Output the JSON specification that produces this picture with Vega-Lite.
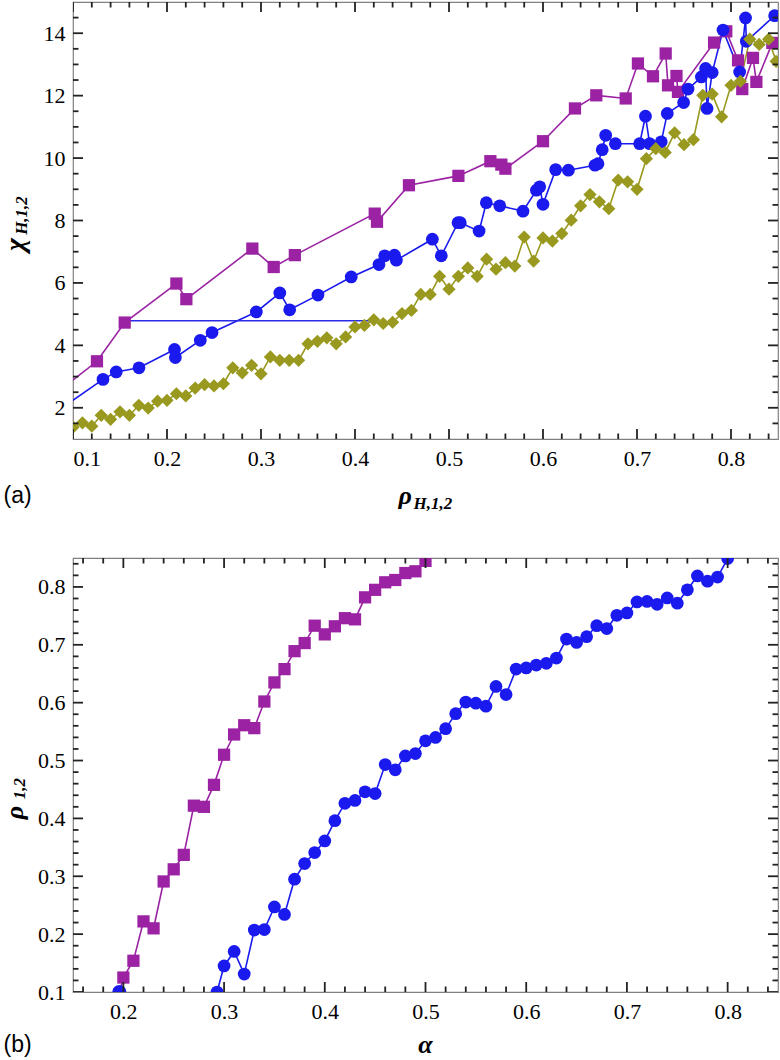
{
"$schema": "https://vega.github.io/schema/vega-lite/v6.json",
"padding": {"left": 0, "top": 1, "right": 4, "bottom": 0},
"spacing": 43,
"config": {
  "font": "Liberation Serif",
  "view": {"stroke": "#808080", "strokeWidth": 1.2},
  "tick": {"color": "#222222", "thickness": 1.8, "opacity": 1},
  "axis": {"domain": false, "grid": false, "ticks": false, "labelFont": "Liberation Serif", "labelFontSize": 22, "labelColor": "#000000", "titleFont": "Liberation Serif", "titleColor": "#000000", "titleFontSize": 26, "titleFontWeight": "bold", "titleFontStyle": "italic"}
},
"datasets": {
  "a": [
    {"s": "sq", "x": 0.085, "y": 2.54}, {"s": "sq", "x": 0.1255, "y": 3.49}, {"s": "sq", "x": 0.155, "y": 4.73}, {"s": "sq", "x": 0.21, "y": 5.98}, {"s": "sq", "x": 0.2206, "y": 5.48}, {"s": "sq", "x": 0.2908, "y": 7.10}, {"s": "sq", "x": 0.3135, "y": 6.51}, {"s": "sq", "x": 0.336, "y": 6.89}, {"s": "sq", "x": 0.421, "y": 8.22}, {"s": "sq", "x": 0.4234, "y": 7.96}, {"s": "sq", "x": 0.4574, "y": 9.13}, {"s": "sq", "x": 0.51, "y": 9.43}, {"s": "sq", "x": 0.544, "y": 9.90}, {"s": "sq", "x": 0.5557, "y": 9.79}, {"s": "sq", "x": 0.56, "y": 9.66}, {"s": "sq", "x": 0.60, "y": 10.54}, {"s": "sq", "x": 0.634, "y": 11.59}, {"s": "sq", "x": 0.6567, "y": 12.01}, {"s": "sq", "x": 0.688, "y": 11.91}, {"s": "sq", "x": 0.701, "y": 13.03}, {"s": "sq", "x": 0.717, "y": 12.62}, {"s": "sq", "x": 0.7305, "y": 13.35}, {"s": "sq", "x": 0.733, "y": 12.33}, {"s": "sq", "x": 0.742, "y": 12.63}, {"s": "sq", "x": 0.7436, "y": 12.12}, {"s": "sq", "x": 0.782, "y": 13.70}, {"s": "sq", "x": 0.795, "y": 14.06}, {"s": "sq", "x": 0.8075, "y": 13.13}, {"s": "sq", "x": 0.812, "y": 12.21}, {"s": "sq", "x": 0.8234, "y": 13.21}, {"s": "sq", "x": 0.827, "y": 12.44}, {"s": "sq", "x": 0.844, "y": 13.69},
    {"s": "ci", "x": 0.09, "y": 2.03}, {"s": "ci", "x": 0.1319, "y": 2.91}, {"s": "ci", "x": 0.146, "y": 3.15}, {"s": "ci", "x": 0.1702, "y": 3.28}, {"s": "ci", "x": 0.208, "y": 3.87}, {"s": "ci", "x": 0.2089, "y": 3.61}, {"s": "ci", "x": 0.2354, "y": 4.16}, {"s": "ci", "x": 0.2479, "y": 4.41}, {"s": "ci", "x": 0.295, "y": 5.07}, {"s": "ci", "x": 0.32, "y": 5.68}, {"s": "ci", "x": 0.3305, "y": 5.14}, {"s": "ci", "x": 0.3606, "y": 5.61}, {"s": "ci", "x": 0.396, "y": 6.19}, {"s": "ci", "x": 0.4255, "y": 6.59}, {"s": "ci", "x": 0.4316, "y": 6.87}, {"s": "ci", "x": 0.442, "y": 6.89}, {"s": "ci", "x": 0.444, "y": 6.73}, {"s": "ci", "x": 0.4823, "y": 7.40}, {"s": "ci", "x": 0.4918, "y": 6.87}, {"s": "ci", "x": 0.5096, "y": 7.93}, {"s": "ci", "x": 0.512, "y": 7.93}, {"s": "ci", "x": 0.532, "y": 7.66}, {"s": "ci", "x": 0.5397, "y": 8.57}, {"s": "ci", "x": 0.554, "y": 8.47}, {"s": "ci", "x": 0.5787, "y": 8.30}, {"s": "ci", "x": 0.593, "y": 8.97}, {"s": "ci", "x": 0.5965, "y": 9.08}, {"s": "ci", "x": 0.60, "y": 8.52}, {"s": "ci", "x": 0.6135, "y": 9.63}, {"s": "ci", "x": 0.627, "y": 9.61}, {"s": "ci", "x": 0.6553, "y": 9.77}, {"s": "ci", "x": 0.6585, "y": 9.82}, {"s": "ci", "x": 0.663, "y": 10.27}, {"s": "ci", "x": 0.6667, "y": 10.73}, {"s": "ci", "x": 0.677, "y": 10.46}, {"s": "ci", "x": 0.7028, "y": 10.46}, {"s": "ci", "x": 0.709, "y": 11.34}, {"s": "ci", "x": 0.7135, "y": 10.46}, {"s": "ci", "x": 0.7258, "y": 10.52}, {"s": "ci", "x": 0.7322, "y": 11.43}, {"s": "ci", "x": 0.7496, "y": 11.78}, {"s": "ci", "x": 0.7543, "y": 12.21}, {"s": "ci", "x": 0.7685, "y": 12.60}, {"s": "ci", "x": 0.773, "y": 12.87}, {"s": "ci", "x": 0.7745, "y": 11.59}, {"s": "ci", "x": 0.780, "y": 12.74}, {"s": "ci", "x": 0.7915, "y": 14.10}, {"s": "ci", "x": 0.8092, "y": 12.76}, {"s": "ci", "x": 0.8155, "y": 14.49}, {"s": "ci", "x": 0.8163, "y": 13.74}, {"s": "ci", "x": 0.8464, "y": 14.56},
    {"s": "di", "x": 0.10, "y": 1.38}, {"s": "di", "x": 0.11, "y": 1.52}, {"s": "di", "x": 0.12, "y": 1.41}, {"s": "di", "x": 0.13, "y": 1.76}, {"s": "di", "x": 0.14, "y": 1.63}, {"s": "di", "x": 0.15, "y": 1.87}, {"s": "di", "x": 0.16, "y": 1.76}, {"s": "di", "x": 0.17, "y": 2.08}, {"s": "di", "x": 0.18, "y": 1.99}, {"s": "di", "x": 0.19, "y": 2.21}, {"s": "di", "x": 0.20, "y": 2.24}, {"s": "di", "x": 0.21, "y": 2.45}, {"s": "di", "x": 0.22, "y": 2.38}, {"s": "di", "x": 0.23, "y": 2.63}, {"s": "di", "x": 0.24, "y": 2.74}, {"s": "di", "x": 0.25, "y": 2.70}, {"s": "di", "x": 0.26, "y": 2.77}, {"s": "di", "x": 0.27, "y": 3.28}, {"s": "di", "x": 0.28, "y": 3.12}, {"s": "di", "x": 0.29, "y": 3.36}, {"s": "di", "x": 0.30, "y": 3.09}, {"s": "di", "x": 0.31, "y": 3.63}, {"s": "di", "x": 0.32, "y": 3.52}, {"s": "di", "x": 0.33, "y": 3.52}, {"s": "di", "x": 0.34, "y": 3.52}, {"s": "di", "x": 0.35, "y": 4.05}, {"s": "di", "x": 0.36, "y": 4.13}, {"s": "di", "x": 0.37, "y": 4.24}, {"s": "di", "x": 0.38, "y": 4.05}, {"s": "di", "x": 0.39, "y": 4.27}, {"s": "di", "x": 0.40, "y": 4.59}, {"s": "di", "x": 0.41, "y": 4.64}, {"s": "di", "x": 0.42, "y": 4.82}, {"s": "di", "x": 0.43, "y": 4.70}, {"s": "di", "x": 0.44, "y": 4.74}, {"s": "di", "x": 0.45, "y": 5.02}, {"s": "di", "x": 0.46, "y": 5.12}, {"s": "di", "x": 0.47, "y": 5.63}, {"s": "di", "x": 0.48, "y": 5.63}, {"s": "di", "x": 0.49, "y": 6.21}, {"s": "di", "x": 0.50, "y": 5.80}, {"s": "di", "x": 0.51, "y": 6.21}, {"s": "di", "x": 0.52, "y": 6.48}, {"s": "di", "x": 0.53, "y": 6.21}, {"s": "di", "x": 0.54, "y": 6.76}, {"s": "di", "x": 0.55, "y": 6.44}, {"s": "di", "x": 0.56, "y": 6.65}, {"s": "di", "x": 0.57, "y": 6.54}, {"s": "di", "x": 0.58, "y": 7.47}, {"s": "di", "x": 0.59, "y": 6.70}, {"s": "di", "x": 0.60, "y": 7.44}, {"s": "di", "x": 0.61, "y": 7.34}, {"s": "di", "x": 0.62, "y": 7.58}, {"s": "di", "x": 0.63, "y": 8.01}, {"s": "di", "x": 0.64, "y": 8.47}, {"s": "di", "x": 0.65, "y": 8.83}, {"s": "di", "x": 0.66, "y": 8.60}, {"s": "di", "x": 0.67, "y": 8.38}, {"s": "di", "x": 0.68, "y": 9.29}, {"s": "di", "x": 0.69, "y": 9.24}, {"s": "di", "x": 0.70, "y": 9.00}, {"s": "di", "x": 0.71, "y": 9.98}, {"s": "di", "x": 0.72, "y": 10.30}, {"s": "di", "x": 0.73, "y": 10.18}, {"s": "di", "x": 0.74, "y": 10.81}, {"s": "di", "x": 0.75, "y": 10.43}, {"s": "di", "x": 0.76, "y": 10.59}, {"s": "di", "x": 0.77, "y": 12.01}, {"s": "di", "x": 0.78, "y": 12.05}, {"s": "di", "x": 0.79, "y": 11.32}, {"s": "di", "x": 0.80, "y": 12.33}, {"s": "di", "x": 0.81, "y": 12.46}, {"s": "di", "x": 0.82, "y": 13.81}, {"s": "di", "x": 0.83, "y": 13.64}, {"s": "di", "x": 0.84, "y": 13.81}, {"s": "di", "x": 0.848, "y": 13.10},
    {"s": "h", "x": 0.158, "y": 4.79}, {"s": "h", "x": 0.419, "y": 4.79}
  ],
  "b": [
    {"s": "sq", "x": 0.19, "y": 0.06}, {"s": "sq", "x": 0.20, "y": 0.125}, {"s": "sq", "x": 0.21, "y": 0.154}, {"s": "sq", "x": 0.22, "y": 0.222}, {"s": "sq", "x": 0.23, "y": 0.210}, {"s": "sq", "x": 0.24, "y": 0.291}, {"s": "sq", "x": 0.25, "y": 0.312}, {"s": "sq", "x": 0.26, "y": 0.337}, {"s": "sq", "x": 0.27, "y": 0.422}, {"s": "sq", "x": 0.28, "y": 0.420}, {"s": "sq", "x": 0.29, "y": 0.458}, {"s": "sq", "x": 0.30, "y": 0.510}, {"s": "sq", "x": 0.31, "y": 0.545}, {"s": "sq", "x": 0.32, "y": 0.561}, {"s": "sq", "x": 0.33, "y": 0.556}, {"s": "sq", "x": 0.34, "y": 0.602}, {"s": "sq", "x": 0.35, "y": 0.635}, {"s": "sq", "x": 0.36, "y": 0.658}, {"s": "sq", "x": 0.37, "y": 0.689}, {"s": "sq", "x": 0.38, "y": 0.703}, {"s": "sq", "x": 0.39, "y": 0.733}, {"s": "sq", "x": 0.40, "y": 0.718}, {"s": "sq", "x": 0.41, "y": 0.732}, {"s": "sq", "x": 0.42, "y": 0.746}, {"s": "sq", "x": 0.43, "y": 0.744}, {"s": "sq", "x": 0.44, "y": 0.782}, {"s": "sq", "x": 0.45, "y": 0.795}, {"s": "sq", "x": 0.46, "y": 0.808}, {"s": "sq", "x": 0.47, "y": 0.812}, {"s": "sq", "x": 0.48, "y": 0.824}, {"s": "sq", "x": 0.49, "y": 0.827}, {"s": "sq", "x": 0.50, "y": 0.845},
    {"s": "ci0", "x": 0.196, "y": 0.100},
    {"s": "ci", "x": 0.293, "y": 0.100}, {"s": "ci", "x": 0.30, "y": 0.145}, {"s": "ci", "x": 0.31, "y": 0.170}, {"s": "ci", "x": 0.32, "y": 0.131}, {"s": "ci", "x": 0.33, "y": 0.207}, {"s": "ci", "x": 0.34, "y": 0.208}, {"s": "ci", "x": 0.35, "y": 0.247}, {"s": "ci", "x": 0.36, "y": 0.234}, {"s": "ci", "x": 0.37, "y": 0.295}, {"s": "ci", "x": 0.38, "y": 0.322}, {"s": "ci", "x": 0.39, "y": 0.341}, {"s": "ci", "x": 0.40, "y": 0.361}, {"s": "ci", "x": 0.41, "y": 0.396}, {"s": "ci", "x": 0.42, "y": 0.426}, {"s": "ci", "x": 0.43, "y": 0.431}, {"s": "ci", "x": 0.44, "y": 0.446}, {"s": "ci", "x": 0.45, "y": 0.443}, {"s": "ci", "x": 0.46, "y": 0.493}, {"s": "ci", "x": 0.47, "y": 0.484}, {"s": "ci", "x": 0.48, "y": 0.508}, {"s": "ci", "x": 0.49, "y": 0.512}, {"s": "ci", "x": 0.50, "y": 0.534}, {"s": "ci", "x": 0.51, "y": 0.540}, {"s": "ci", "x": 0.52, "y": 0.555}, {"s": "ci", "x": 0.53, "y": 0.581}, {"s": "ci", "x": 0.54, "y": 0.601}, {"s": "ci", "x": 0.55, "y": 0.599}, {"s": "ci", "x": 0.56, "y": 0.594}, {"s": "ci", "x": 0.57, "y": 0.628}, {"s": "ci", "x": 0.58, "y": 0.614}, {"s": "ci", "x": 0.59, "y": 0.658}, {"s": "ci", "x": 0.60, "y": 0.660}, {"s": "ci", "x": 0.61, "y": 0.665}, {"s": "ci", "x": 0.62, "y": 0.668}, {"s": "ci", "x": 0.63, "y": 0.677}, {"s": "ci", "x": 0.64, "y": 0.710}, {"s": "ci", "x": 0.65, "y": 0.704}, {"s": "ci", "x": 0.66, "y": 0.714}, {"s": "ci", "x": 0.67, "y": 0.733}, {"s": "ci", "x": 0.68, "y": 0.728}, {"s": "ci", "x": 0.69, "y": 0.751}, {"s": "ci", "x": 0.70, "y": 0.755}, {"s": "ci", "x": 0.71, "y": 0.774}, {"s": "ci", "x": 0.72, "y": 0.775}, {"s": "ci", "x": 0.73, "y": 0.770}, {"s": "ci", "x": 0.74, "y": 0.781}, {"s": "ci", "x": 0.75, "y": 0.772}, {"s": "ci", "x": 0.76, "y": 0.795}, {"s": "ci", "x": 0.77, "y": 0.819}, {"s": "ci", "x": 0.78, "y": 0.810}, {"s": "ci", "x": 0.79, "y": 0.817}, {"s": "ci", "x": 0.80, "y": 0.849}
  ],
  "ta": [
    {"ax": "x", "k": "M", "v": 0.1}, {"ax": "x", "k": "M", "v": 0.2}, {"ax": "x", "k": "M", "v": 0.3}, {"ax": "x", "k": "M", "v": 0.4}, {"ax": "x", "k": "M", "v": 0.5}, {"ax": "x", "k": "M", "v": 0.6}, {"ax": "x", "k": "M", "v": 0.7}, {"ax": "x", "k": "M", "v": 0.8},
    {"ax": "x", "k": "m", "v": 0.12}, {"ax": "x", "k": "m", "v": 0.14}, {"ax": "x", "k": "m", "v": 0.16}, {"ax": "x", "k": "m", "v": 0.18}, {"ax": "x", "k": "m", "v": 0.22}, {"ax": "x", "k": "m", "v": 0.24}, {"ax": "x", "k": "m", "v": 0.26}, {"ax": "x", "k": "m", "v": 0.28}, {"ax": "x", "k": "m", "v": 0.32}, {"ax": "x", "k": "m", "v": 0.34}, {"ax": "x", "k": "m", "v": 0.36}, {"ax": "x", "k": "m", "v": 0.38}, {"ax": "x", "k": "m", "v": 0.42}, {"ax": "x", "k": "m", "v": 0.44}, {"ax": "x", "k": "m", "v": 0.46}, {"ax": "x", "k": "m", "v": 0.48}, {"ax": "x", "k": "m", "v": 0.52}, {"ax": "x", "k": "m", "v": 0.54}, {"ax": "x", "k": "m", "v": 0.56}, {"ax": "x", "k": "m", "v": 0.58}, {"ax": "x", "k": "m", "v": 0.62}, {"ax": "x", "k": "m", "v": 0.64}, {"ax": "x", "k": "m", "v": 0.66}, {"ax": "x", "k": "m", "v": 0.68}, {"ax": "x", "k": "m", "v": 0.72}, {"ax": "x", "k": "m", "v": 0.74}, {"ax": "x", "k": "m", "v": 0.76}, {"ax": "x", "k": "m", "v": 0.78}, {"ax": "x", "k": "m", "v": 0.82}, {"ax": "x", "k": "m", "v": 0.84},
    {"ax": "y", "k": "M", "v": 2}, {"ax": "y", "k": "M", "v": 4}, {"ax": "y", "k": "M", "v": 6}, {"ax": "y", "k": "M", "v": 8}, {"ax": "y", "k": "M", "v": 10}, {"ax": "y", "k": "M", "v": 12}, {"ax": "y", "k": "M", "v": 14},
    {"ax": "y", "k": "m", "v": 1.5}, {"ax": "y", "k": "m", "v": 2.5}, {"ax": "y", "k": "m", "v": 3}, {"ax": "y", "k": "m", "v": 3.5}, {"ax": "y", "k": "m", "v": 4.5}, {"ax": "y", "k": "m", "v": 5}, {"ax": "y", "k": "m", "v": 5.5}, {"ax": "y", "k": "m", "v": 6.5}, {"ax": "y", "k": "m", "v": 7}, {"ax": "y", "k": "m", "v": 7.5}, {"ax": "y", "k": "m", "v": 8.5}, {"ax": "y", "k": "m", "v": 9}, {"ax": "y", "k": "m", "v": 9.5}, {"ax": "y", "k": "m", "v": 10.5}, {"ax": "y", "k": "m", "v": 11}, {"ax": "y", "k": "m", "v": 11.5}, {"ax": "y", "k": "m", "v": 12.5}, {"ax": "y", "k": "m", "v": 13}, {"ax": "y", "k": "m", "v": 13.5}, {"ax": "y", "k": "m", "v": 14.5}
  ],
  "tb": [
    {"ax": "x", "k": "M", "v": 0.2}, {"ax": "x", "k": "M", "v": 0.3}, {"ax": "x", "k": "M", "v": 0.4}, {"ax": "x", "k": "M", "v": 0.5}, {"ax": "x", "k": "M", "v": 0.6}, {"ax": "x", "k": "M", "v": 0.7}, {"ax": "x", "k": "M", "v": 0.8},
    {"ax": "x", "k": "m", "v": 0.16}, {"ax": "x", "k": "m", "v": 0.18}, {"ax": "x", "k": "m", "v": 0.22}, {"ax": "x", "k": "m", "v": 0.24}, {"ax": "x", "k": "m", "v": 0.26}, {"ax": "x", "k": "m", "v": 0.28}, {"ax": "x", "k": "m", "v": 0.32}, {"ax": "x", "k": "m", "v": 0.34}, {"ax": "x", "k": "m", "v": 0.36}, {"ax": "x", "k": "m", "v": 0.38}, {"ax": "x", "k": "m", "v": 0.42}, {"ax": "x", "k": "m", "v": 0.44}, {"ax": "x", "k": "m", "v": 0.46}, {"ax": "x", "k": "m", "v": 0.48}, {"ax": "x", "k": "m", "v": 0.52}, {"ax": "x", "k": "m", "v": 0.54}, {"ax": "x", "k": "m", "v": 0.56}, {"ax": "x", "k": "m", "v": 0.58}, {"ax": "x", "k": "m", "v": 0.62}, {"ax": "x", "k": "m", "v": 0.64}, {"ax": "x", "k": "m", "v": 0.66}, {"ax": "x", "k": "m", "v": 0.68}, {"ax": "x", "k": "m", "v": 0.72}, {"ax": "x", "k": "m", "v": 0.74}, {"ax": "x", "k": "m", "v": 0.76}, {"ax": "x", "k": "m", "v": 0.78}, {"ax": "x", "k": "m", "v": 0.82}, {"ax": "x", "k": "m", "v": 0.84},
    {"ax": "y", "k": "M", "v": 0.1}, {"ax": "y", "k": "M", "v": 0.2}, {"ax": "y", "k": "M", "v": 0.3}, {"ax": "y", "k": "M", "v": 0.4}, {"ax": "y", "k": "M", "v": 0.5}, {"ax": "y", "k": "M", "v": 0.6}, {"ax": "y", "k": "M", "v": 0.7}, {"ax": "y", "k": "M", "v": 0.8},
    {"ax": "y", "k": "m", "v": 0.12}, {"ax": "y", "k": "m", "v": 0.14}, {"ax": "y", "k": "m", "v": 0.16}, {"ax": "y", "k": "m", "v": 0.18}, {"ax": "y", "k": "m", "v": 0.22}, {"ax": "y", "k": "m", "v": 0.24}, {"ax": "y", "k": "m", "v": 0.26}, {"ax": "y", "k": "m", "v": 0.28}, {"ax": "y", "k": "m", "v": 0.32}, {"ax": "y", "k": "m", "v": 0.34}, {"ax": "y", "k": "m", "v": 0.36}, {"ax": "y", "k": "m", "v": 0.38}, {"ax": "y", "k": "m", "v": 0.42}, {"ax": "y", "k": "m", "v": 0.44}, {"ax": "y", "k": "m", "v": 0.46}, {"ax": "y", "k": "m", "v": 0.48}, {"ax": "y", "k": "m", "v": 0.52}, {"ax": "y", "k": "m", "v": 0.54}, {"ax": "y", "k": "m", "v": 0.56}, {"ax": "y", "k": "m", "v": 0.58}, {"ax": "y", "k": "m", "v": 0.62}, {"ax": "y", "k": "m", "v": 0.64}, {"ax": "y", "k": "m", "v": 0.66}, {"ax": "y", "k": "m", "v": 0.68}, {"ax": "y", "k": "m", "v": 0.72}, {"ax": "y", "k": "m", "v": 0.74}, {"ax": "y", "k": "m", "v": 0.76}, {"ax": "y", "k": "m", "v": 0.78}, {"ax": "y", "k": "m", "v": 0.82}, {"ax": "y", "k": "m", "v": 0.84}
  ]
},
"vconcat": [
  {
    "width": 705, "height": 437,
    "resolve": {"axis": {"x": "independent", "y": "independent"}},
    "layer": [
      {
        "data": {"name": "a"},
        "transform": [{"filter": "datum.s != 'ci0'"}],
        "mark": {"type": "line", "clip": true, "strokeWidth": 1.6},
        "encoding": {
          "x": {"field": "x", "type": "quantitative", "scale": {"domain": [0.1, 0.85], "nice": false, "zero": false},
            "axis": {"orient": "bottom", "values": [0.1, 0.2, 0.3, 0.4, 0.5, 0.6, 0.7, 0.8], "format": ".1f", "labelPadding": 9, "labelFont": "Liberation Serif", "titleFont": "Liberation Serif", "title": "ρ", "titleX": 325, "titleY": 64, "titleAlign": "left", "titleBaseline": "alphabetic", "titleFontSize": 26}},
          "y": {"field": "y", "type": "quantitative", "scale": {"domain": [1, 15], "nice": false, "zero": false},
            "axis": {"orient": "left", "values": [2, 4, 6, 8, 10, 12, 14], "format": "d", "labelPadding": 8, "labelFont": "Liberation Serif", "titleFont": "Liberation Serif", "title": "χ", "titleX": -50, "titleY": 242, "titleAngle": -90, "titleAlign": "center", "titleBaseline": "alphabetic", "titleFontSize": 28}},
          "color": {"field": "s", "type": "nominal", "legend": null, "scale": {"domain": ["sq", "ci", "di", "h", "ci0"], "range": ["#9a22a3", "#1a1aee", "#999920", "#2a2ae6", "#1a1aee"]}}
        }
      },
      {
        "data": {"name": "a"},
        "transform": [{"filter": "datum.s != 'h'"}],
        "mark": {"type": "point", "filled": true, "opacity": 1, "clip": true},
        "encoding": {
          "x": {"field": "x", "type": "quantitative", "scale": {"domain": [0.1, 0.85], "nice": false, "zero": false}, "axis": null},
          "y": {"field": "y", "type": "quantitative", "scale": {"domain": [1, 15], "nice": false, "zero": false}, "axis": null},
          "color": {"field": "s", "type": "nominal", "legend": null, "scale": {"domain": ["sq", "ci", "di", "h", "ci0"], "range": ["#9a1ea3", "#1414f0", "#999918", "#2a2ae6", "#1414f0"]}},
          "shape": {"field": "s", "type": "nominal", "legend": null, "scale": {"domain": ["sq", "ci", "di", "h", "ci0"], "range": ["square", "circle", "diamond", "circle", "circle"]}},
          "size": {"field": "s", "type": "nominal", "legend": null, "scale": {"domain": ["sq", "ci", "di", "h", "ci0"], "range": [150, 200, 140, 0, 200]}}
        }
      },
      {"data": {"name": "ta"}, "transform": [{"filter": "datum.ax == 'x' && datum.k == 'M'"}], "mark": {"type": "tick", "orient": "vertical", "clip": true, "size": 20},
        "encoding": {"x": {"field": "v", "type": "quantitative", "axis": null}, "y": {"datum": 1, "type": "quantitative", "axis": null}}},
      {"data": {"name": "ta"}, "transform": [{"filter": "datum.ax == 'x' && datum.k == 'm'"}], "mark": {"type": "tick", "orient": "vertical", "clip": true, "size": 11},
        "encoding": {"x": {"field": "v", "type": "quantitative", "axis": null}, "y": {"datum": 1, "type": "quantitative", "axis": null}}},
      {"data": {"name": "ta"}, "transform": [{"filter": "datum.ax == 'x' && datum.k == 'M'"}], "mark": {"type": "tick", "orient": "vertical", "clip": true, "size": 20},
        "encoding": {"x": {"field": "v", "type": "quantitative", "axis": null}, "y": {"datum": 15, "type": "quantitative", "axis": null}}},
      {"data": {"name": "ta"}, "transform": [{"filter": "datum.ax == 'x' && datum.k == 'm'"}], "mark": {"type": "tick", "orient": "vertical", "clip": true, "size": 11},
        "encoding": {"x": {"field": "v", "type": "quantitative", "axis": null}, "y": {"datum": 15, "type": "quantitative", "axis": null}}},
      {"data": {"name": "ta"}, "transform": [{"filter": "datum.ax == 'y' && datum.k == 'M'"}], "mark": {"type": "tick", "orient": "horizontal", "clip": true, "size": 20},
        "encoding": {"y": {"field": "v", "type": "quantitative", "axis": null}, "x": {"datum": 0.1, "type": "quantitative", "axis": null}}},
      {"data": {"name": "ta"}, "transform": [{"filter": "datum.ax == 'y' && datum.k == 'm'"}], "mark": {"type": "tick", "orient": "horizontal", "clip": true, "size": 11},
        "encoding": {"y": {"field": "v", "type": "quantitative", "axis": null}, "x": {"datum": 0.1, "type": "quantitative", "axis": null}}},
      {"data": {"name": "ta"}, "transform": [{"filter": "datum.ax == 'y' && datum.k == 'M'"}], "mark": {"type": "tick", "orient": "horizontal", "clip": true, "size": 20},
        "encoding": {"y": {"field": "v", "type": "quantitative", "axis": null}, "x": {"datum": 0.85, "type": "quantitative", "axis": null}}},
      {"data": {"name": "ta"}, "transform": [{"filter": "datum.ax == 'y' && datum.k == 'm'"}], "mark": {"type": "tick", "orient": "horizontal", "clip": true, "size": 11},
        "encoding": {"y": {"field": "v", "type": "quantitative", "axis": null}, "x": {"datum": 0.85, "type": "quantitative", "axis": null}}},
      {
        "data": {"name": "a"},
        "mark": {"type": "point", "opacity": 0},
        "encoding": {
          "x": {"field": "x", "type": "quantitative",
            "axis": {"orient": "top", "labels": false, "ticks": false, "titleFont": "Liberation Serif", "title": "H,1,2", "titleX": 340, "titleY": 506, "titleAlign": "left", "titleBaseline": "alphabetic", "titleFontSize": 17}},
          "y": {"field": "y", "type": "quantitative", "axis": null}
        }
      },
      {
        "data": {"name": "a"},
        "mark": {"type": "point", "opacity": 0},
        "encoding": {
          "x": {"field": "x", "type": "quantitative",
            "axis": {"orient": "bottom", "labels": false, "ticks": false,
              "title": "(a)", "titleFont": "Liberation Sans", "titleFontSize": 23, "titleFontStyle": "normal", "titleFontWeight": "normal", "titleX": -70, "titleY": 56, "titleAlign": "left", "titleBaseline": "middle", "titleAngle": 0}},
          "y": {"field": "y", "type": "quantitative",
            "axis": {"orient": "left", "labels": false, "ticks": false,
              "titleFont": "Liberation Serif", "title": "H,1,2", "titleX": -47, "titleY": 213, "titleAngle": -90, "titleAlign": "center", "titleBaseline": "alphabetic", "titleFontSize": 17}}
        }
      }
    ]
  },
  {
    "width": 705, "height": 434,
    "resolve": {"axis": {"x": "independent", "y": "independent"}},
    "layer": [
      {
        "data": {"name": "b"},
        "transform": [{"filter": "datum.s != 'ci0'"}],
        "mark": {"type": "line", "clip": true, "strokeWidth": 1.6},
        "encoding": {
          "x": {"field": "x", "type": "quantitative", "scale": {"domain": [0.15, 0.85], "nice": false, "zero": false},
            "axis": {"orient": "bottom", "values": [0.2, 0.3, 0.4, 0.5, 0.6, 0.7, 0.8], "format": ".1f", "labelPadding": 9, "labelFont": "Liberation Serif", "titleFont": "Liberation Serif", "title": "α", "titleX": 352, "titleY": 60, "titleAlign": "center", "titleBaseline": "alphabetic", "titleFontSize": 26}},
          "y": {"field": "y", "type": "quantitative", "scale": {"domain": [0.1, 0.85], "nice": false, "zero": false},
            "axis": {"orient": "left", "values": [0.1, 0.2, 0.3, 0.4, 0.5, 0.6, 0.7, 0.8], "format": ".1f", "labelPadding": 8, "labelFont": "Liberation Serif", "titleFont": "Liberation Serif", "title": "ρ", "titleX": -51, "titleY": 254, "titleAngle": -90, "titleAlign": "center", "titleBaseline": "alphabetic", "titleFontSize": 26}},
          "color": {"field": "s", "type": "nominal", "legend": null, "scale": {"domain": ["sq", "ci", "di", "h", "ci0"], "range": ["#9a22a3", "#1a1aee", "#999920", "#2a2ae6", "#1a1aee"]}}
        }
      },
      {
        "data": {"name": "b"},
        "mark": {"type": "point", "filled": true, "opacity": 1, "clip": true},
        "encoding": {
          "x": {"field": "x", "type": "quantitative", "scale": {"domain": [0.15, 0.85], "nice": false, "zero": false}, "axis": null},
          "y": {"field": "y", "type": "quantitative", "scale": {"domain": [0.1, 0.85], "nice": false, "zero": false}, "axis": null},
          "color": {"field": "s", "type": "nominal", "legend": null, "scale": {"domain": ["sq", "ci", "di", "h", "ci0"], "range": ["#9a1ea3", "#1414f0", "#999918", "#2a2ae6", "#1414f0"]}},
          "shape": {"field": "s", "type": "nominal", "legend": null, "scale": {"domain": ["sq", "ci", "di", "h", "ci0"], "range": ["square", "circle", "diamond", "circle", "circle"]}},
          "size": {"field": "s", "type": "nominal", "legend": null, "scale": {"domain": ["sq", "ci", "di", "h", "ci0"], "range": [140, 180, 140, 0, 180]}}
        }
      },
      {"data": {"name": "tb"}, "transform": [{"filter": "datum.ax == 'x' && datum.k == 'M'"}], "mark": {"type": "tick", "orient": "vertical", "clip": true, "size": 20},
        "encoding": {"x": {"field": "v", "type": "quantitative", "axis": null}, "y": {"datum": 0.1, "type": "quantitative", "axis": null}}},
      {"data": {"name": "tb"}, "transform": [{"filter": "datum.ax == 'x' && datum.k == 'm'"}], "mark": {"type": "tick", "orient": "vertical", "clip": true, "size": 11},
        "encoding": {"x": {"field": "v", "type": "quantitative", "axis": null}, "y": {"datum": 0.1, "type": "quantitative", "axis": null}}},
      {"data": {"name": "tb"}, "transform": [{"filter": "datum.ax == 'x' && datum.k == 'M'"}], "mark": {"type": "tick", "orient": "vertical", "clip": true, "size": 20},
        "encoding": {"x": {"field": "v", "type": "quantitative", "axis": null}, "y": {"datum": 0.85, "type": "quantitative", "axis": null}}},
      {"data": {"name": "tb"}, "transform": [{"filter": "datum.ax == 'x' && datum.k == 'm'"}], "mark": {"type": "tick", "orient": "vertical", "clip": true, "size": 11},
        "encoding": {"x": {"field": "v", "type": "quantitative", "axis": null}, "y": {"datum": 0.85, "type": "quantitative", "axis": null}}},
      {"data": {"name": "tb"}, "transform": [{"filter": "datum.ax == 'y' && datum.k == 'M'"}], "mark": {"type": "tick", "orient": "horizontal", "clip": true, "size": 20},
        "encoding": {"y": {"field": "v", "type": "quantitative", "axis": null}, "x": {"datum": 0.15, "type": "quantitative", "axis": null}}},
      {"data": {"name": "tb"}, "transform": [{"filter": "datum.ax == 'y' && datum.k == 'm'"}], "mark": {"type": "tick", "orient": "horizontal", "clip": true, "size": 11},
        "encoding": {"y": {"field": "v", "type": "quantitative", "axis": null}, "x": {"datum": 0.15, "type": "quantitative", "axis": null}}},
      {"data": {"name": "tb"}, "transform": [{"filter": "datum.ax == 'y' && datum.k == 'M'"}], "mark": {"type": "tick", "orient": "horizontal", "clip": true, "size": 20},
        "encoding": {"y": {"field": "v", "type": "quantitative", "axis": null}, "x": {"datum": 0.85, "type": "quantitative", "axis": null}}},
      {"data": {"name": "tb"}, "transform": [{"filter": "datum.ax == 'y' && datum.k == 'm'"}], "mark": {"type": "tick", "orient": "horizontal", "clip": true, "size": 11},
        "encoding": {"y": {"field": "v", "type": "quantitative", "axis": null}, "x": {"datum": 0.85, "type": "quantitative", "axis": null}}},
      {
        "data": {"name": "b"},
        "mark": {"type": "point", "opacity": 0},
        "encoding": {
          "x": {"field": "x", "type": "quantitative",
            "axis": {"orient": "bottom", "labels": false, "ticks": false,
              "title": "(b)", "titleFont": "Liberation Sans", "titleFontSize": 23, "titleFontStyle": "normal", "titleFontWeight": "normal", "titleX": -70, "titleY": 52, "titleAlign": "left", "titleBaseline": "middle", "titleAngle": 0}},
          "y": {"field": "y", "type": "quantitative",
            "axis": {"orient": "left", "labels": false, "ticks": false,
              "titleFont": "Liberation Serif", "title": "1,2", "titleX": -49, "titleY": 230, "titleAngle": -90, "titleAlign": "center", "titleBaseline": "alphabetic", "titleFontSize": 17}}
        }
      }
    ]
  }
]
}
